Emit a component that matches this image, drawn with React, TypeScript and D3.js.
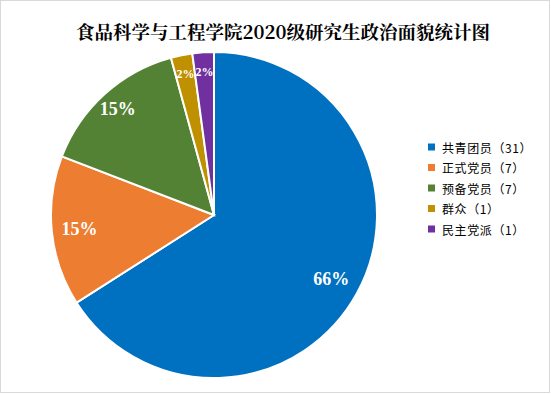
import React from "react";
import * as d3 from "d3";

const categories = ["共青团员", "正式党员", "预备党员", "群众", "民主党派"];
const values = [31, 7, 7, 1, 1];
const colors = ["#0070C0", "#ED7D31", "#548235", "#BF9000", "#7030A0"];
const title = "食品科学与工程学院2020级研究生政治面貌统计图";

export default function App() {
  const W = 551, H = 394;
  const cx = 214, cy = 215, r = 163;
  const total = d3.sum(values);
  const pie = d3.pie<number>().sort(null).value((d) => d)(values);
  const arc = d3.arc<d3.PieArcDatum<number>>().innerRadius(0).outerRadius(r);
  const labelRatios = [0.82, 0.83, 0.88, 0.88, 0.88];
  const fmt = (v: number) => Math.round((v / total) * 100) + "%";
  return (
    <svg width={W} height={H} style={{ position: "absolute", left: 0, top: 0 }}>
      <rect x={0.5} y={0.5} width={W - 2} height={H - 2} fill="#fff" stroke="#d9d9d9" strokeWidth={1} />
      <text x={283} y={39} textAnchor="middle" fontFamily="'Noto Serif CJK SC','Noto Sans CJK SC',serif" fontWeight="bold" fontSize={18.5} fill="#000">
        {title}
      </text>
      <g transform={`translate(${cx},${cy})`}>
        {pie.map((p, i) => (
          <path key={i} d={arc(p) || ""} fill={colors[i]} stroke="#fff" strokeWidth={2} />
        ))}
        {pie.map((p, i) => {
          const a = (p.startAngle + p.endAngle) / 2;
          const rr = r * labelRatios[i];
          const x = Math.sin(a) * rr;
          const y = -Math.cos(a) * rr;
          const small = values[i] / total < 0.05;
          return (
            <text key={i} x={x} y={y} textAnchor="middle" dominantBaseline="central"
              fontFamily="'Liberation Serif','DejaVu Serif',serif" fontWeight="bold"
              fontSize={small ? 12 : 18} fill="#fff">
              {fmt(values[i])}
            </text>
          );
        })}
      </g>
      <g>
        {categories.map((c, i) => (
          <g key={i} transform={`translate(428,${147 + i * 20.5})`}>
            <rect x={0} y={-3.5} width={7} height={7} fill={colors[i]} />
            <text x={14} y={0} dominantBaseline="central" fontFamily="'Noto Sans CJK SC',sans-serif" fontSize={12} fill="#000" letterSpacing={0.6}>
              {c}（{values[i]}）
            </text>
          </g>
        ))}
      </g>
    </svg>
  );
}
